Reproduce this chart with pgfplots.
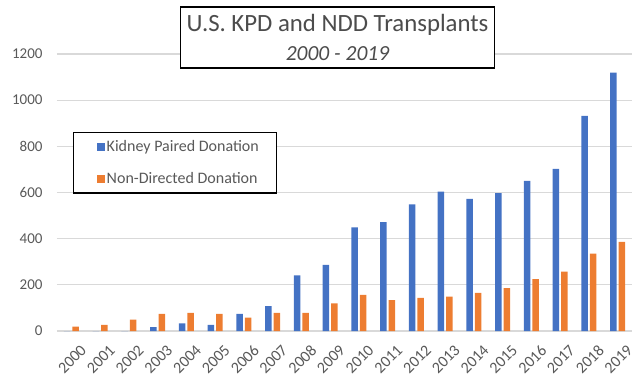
\documentclass[border=0pt]{standalone}
\usepackage{pgfplots}
\pgfplotsset{compat=1.18}
\usepackage{fontspec}
\setmainfont{Carlito}
\definecolor{kpd}{HTML}{4472C4}
\definecolor{ndd}{HTML}{ED7D31}
\definecolor{gridc}{HTML}{D9D9D9}
\definecolor{tickc}{HTML}{595959}
\begin{document}
\begin{tikzpicture}[x=1pt,y=1pt]
\useasboundingbox (-57,-52) rectangle (578,331);
\begin{axis}[
  at={(0,0)}, anchor=south west,
  scale only axis, width=575pt, height=277pt,
  ybar=2.2pt, bar width=6.5pt,
  xmin=-0.5, xmax=19.5, ymin=0, ymax=1200,
  xtick={0,...,19},
  xticklabels={2000,2001,2002,2003,2004,2005,2006,2007,2008,2009,2010,2011,2012,2013,2014,2015,2016,2017,2018,2019},
  ytick={0,200,...,1200},
  ymajorgrids, grid style={gridc, line width=1.3pt},
  axis line style={draw=none},
  major tick length=0pt,
  tick label style={font=\fontsize{15}{17}\selectfont, text=tickc},
  /pgf/number format/assume math mode=true,
  /pgf/number format/1000 sep={},
  yticklabel style={xshift=-11pt},
  xticklabel style={rotate=45, anchor=north east, inner sep=1pt, yshift=-14pt, xshift=-2pt, font=\fontsize{16}{18}\selectfont},
  scaled y ticks=false,
  legend style={at={(0.028,0.718)}, anchor=north west, draw=black, line width=1.3pt,
    font=\fontsize{16}{18}\selectfont, text=tickc, row sep=15pt,
    inner xsep=16pt, inner ysep=6pt, cells={anchor=west}},
  legend image code/.code={\path (-7pt,0pt); \fill[#1, draw=none] (0pt,-4pt) rectangle (8pt,4pt);},
]
\addplot[fill=kpd, draw=none] coordinates {
(0,0) (1,0) (2,0) (3,17) (4,33) (5,26) (6,74) (7,108) (8,241) (9,287)
(10,449) (11,472) (12,549) (13,604) (14,572) (15,597) (16,650) (17,702) (18,932) (19,1119)};
\addplot[fill=ndd, draw=none] coordinates {
(0,19) (1,26) (2,49) (3,74) (4,78) (5,74) (6,58) (7,78) (8,78) (9,120)
(10,156) (11,134) (12,143) (13,149) (14,165) (15,186) (16,225) (17,257) (18,335) (19,386)};
\legend{Kidney Paired Donation, Non-Directed Donation}
\end{axis}
\node[draw=black, line width=1.5pt, fill=white, minimum width=314pt, minimum height=61pt,
  inner sep=0pt, text=tickc!85!black] at (280.5,293.5) {};
\node[text=tickc!85!black, anchor=base, inner sep=0pt] at (280.5,299) {\fontsize{24.8}{29}\selectfont U.S. KPD and NDD Transplants};
\node[text=tickc!85!black, anchor=base, inner sep=0pt] at (280.5,270) {\fontsize{21.5}{26}\selectfont\itshape 2000 - 2019};
\end{tikzpicture}
\end{document}
